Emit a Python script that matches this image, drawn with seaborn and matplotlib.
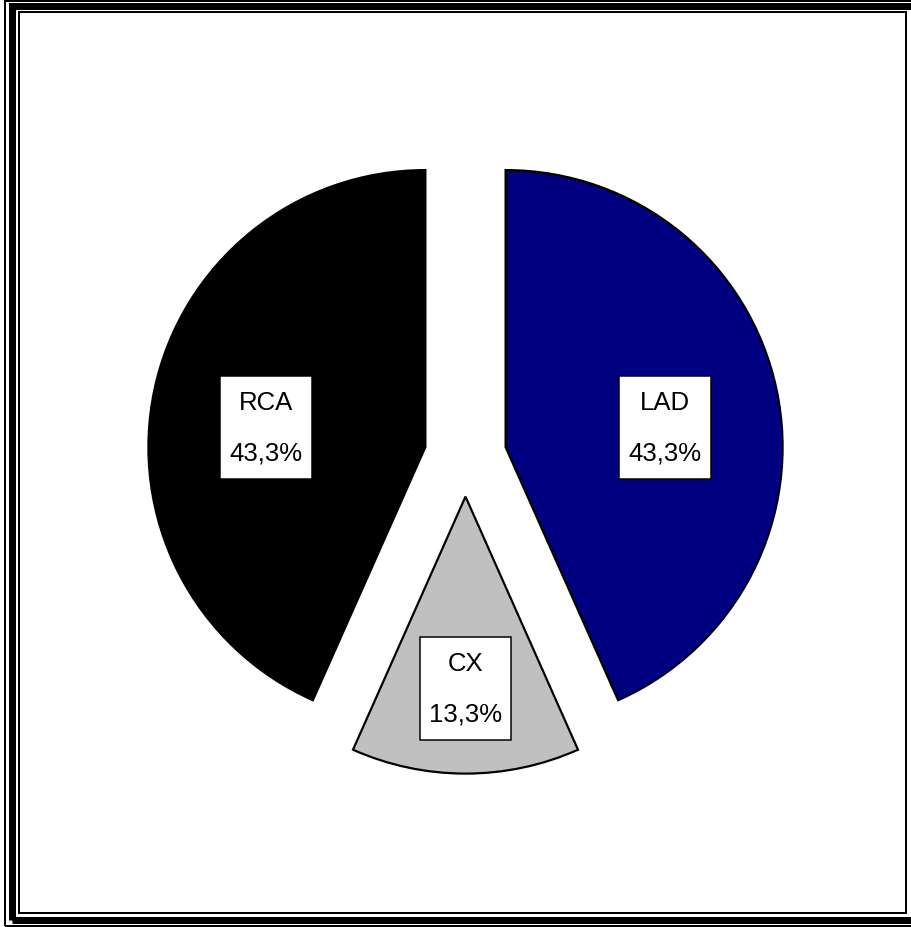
import numpy as np
import matplotlib
matplotlib.use("Agg")
import matplotlib.pyplot as plt
from matplotlib.patches import Rectangle
import seaborn as sns

# Share of culprit vessels
vessels = ["LAD", "CX", "RCA"]
shares = [43.3, 13.3, 43.3]
share_labels = ["43,3%", "13,3%", "43,3%"]
colors = ["#000080", "#C0C0C0", "#000000"]

sns.set_theme(style="white")
plt.rcParams["font.family"] = ["Liberation Sans", "DejaVu Sans"]

W, H = 911, 928
PX = 72 / 100  # points per pixel at 100 dpi

fig = plt.figure(figsize=(W / 100, H / 100), dpi=100)
ax = fig.add_axes([0, 0, 1, 1])

center = (465.5, H - 456.6)
R = 277
gap = 0.148 * R  # explode distance (pie uses data units)
wedges, _ = ax.pie(
    shares,
    colors=colors,
    startangle=90,
    counterclock=False,
    explode=[gap] * len(shares),
    radius=R,
    center=center,
    wedgeprops=dict(edgecolor="black", linewidth=2.2 * PX),
)

ax.set_xlim(0, W)
ax.set_ylim(0, H)
ax.set_aspect("auto")
ax.axis("off")

# Labels inside each wedge: distance from the wedge tip (in radii) and
# a small turn away from the bisector toward the horizontal
label_dist = [0.58, 0.693, 0.58]
label_turn = [-4.9, 0.0, 4.9]
texts = []
for w, name, pct, d, turn in zip(wedges, vessels, share_labels, label_dist, label_turn):
    theta = np.deg2rad((w.theta1 + w.theta2) / 2 + turn)
    x = w.center[0] + d * R * np.cos(theta)
    y = w.center[1] + d * R * np.sin(theta)
    texts.append(ax.text(
        x, y, f"{name}\n{pct}",
        ha="center", va="center", multialignment="center",
        fontsize=18.5, linespacing=2.4, color="black", zorder=5,
    ))

# White boxes with a thin black outline behind each label
fig.canvas.draw()
renderer = fig.canvas.get_renderer()
inv = ax.transData.inverted()
pad_x, box_h = 9, 103
for t in texts:
    bb = t.get_window_extent(renderer)
    (x0, y0), (x1, y1) = inv.transform([(bb.x0, bb.y0), (bb.x1, bb.y1)])
    ym = (y0 + y1) / 2
    ax.add_patch(Rectangle((x0 - pad_x, ym - box_h / 2), (x1 - x0) + 2 * pad_x, box_h,
                           fc="white", ec="black", lw=1.5 * PX, zorder=4))

# Triple-line frame around the chart
frame = [
    ((5, 1.5), 915, 925, 2),
    ((12, 7.5), 900.5, 914, 7),
    ((18.5, 14), 887.5, 901, 2),
]
for xy, w, h, lw in frame:
    ax.add_patch(Rectangle(xy, w, h, fill=False, ec="black", lw=lw * PX, clip_on=False))

fig.savefig("out.png", dpi=100)
